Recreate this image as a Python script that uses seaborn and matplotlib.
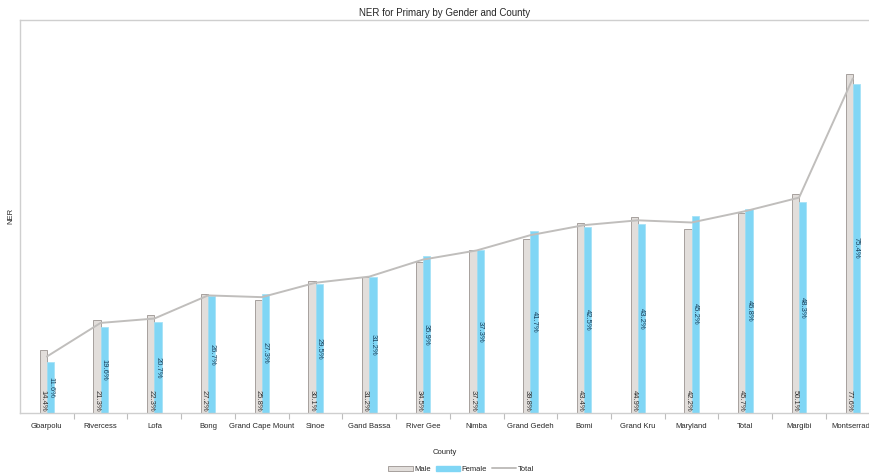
import pandas as pd
import seaborn as sns
import matplotlib.pyplot as plt
from matplotlib.patches import Patch
from matplotlib.lines import Line2D

counties = ['Gbarpolu', 'Rivercess', 'Lofa', 'Bong', 'Grand Cape Mount', 'Sinoe',
            'Gand Bassa', 'River Gee', 'Nimba', 'Grand Gedeh', 'Bomi', 'Grand Kru',
            'Maryland', 'Total', 'Margibi', 'Montserrado']
male = [14.4, 21.3, 22.3, 27.2, 25.8, 30.1, 31.2, 34.5, 37.2, 39.8, 43.4, 44.9,
        42.2, 45.7, 50.1, 77.6]
female = [11.6, 19.6, 20.7, 26.7, 27.3, 29.5, 31.2, 35.9, 37.3, 41.7, 42.5, 43.2,
          45.2, 46.8, 48.3, 75.4]
total = [12.9, 20.6, 21.6, 26.9, 26.5, 29.8, 31.2, 35.1, 37.2, 40.7, 43.0, 44.1,
         43.6, 46.2, 49.3, 76.6]

sns.set_theme(style='white')
plt.rcParams['font.family'] = ['Liberation Sans', 'DejaVu Sans']

df = pd.DataFrame({'County': counties * 2,
                   'NER': male + female,
                   'Gender': ['Male'] * len(counties) + ['Female'] * len(counties)})

fig = plt.figure(figsize=(8.7, 4.74), dpi=100)
ax = fig.add_axes([0.023, 0.129, 0.977, 0.829])

sns.barplot(data=df, x='County', y='NER', hue='Gender', order=counties,
            hue_order=['Male', 'Female'], palette=['#e2dedb', '#80d6f5'],
            saturation=1, width=0.27, dodge=True, ax=ax, legend=False)
for bar, ec in zip(ax.patches, ['#9a9490'] * len(counties) + ['#a6e2f7'] * len(counties)):
    bar.set_edgecolor(ec)
    bar.set_linewidth(0.6)

sns.lineplot(x=counties, y=total, sort=False, color='#c0bebc', linewidth=1.4, ax=ax)

# labels: male at base, female centered
ax.bar_label(ax.containers[0], labels=[f'{v:.1f}%' for v in male], label_type='edge',
             rotation=270, fontsize=5.5, color='#333333')
ax.bar_label(ax.containers[1], labels=[f'{v:.1f}%' for v in female], label_type='center',
             rotation=270, fontsize=5.5, color='#1a3f5a')

# move male labels to bottom of bars
for t in ax.texts[:len(male)]:
    t.xy = (t.xy[0], 0)
    t.xyann = (0, 1)
    t.set_va('bottom')

ax.set_yticks([])
ax.set_xticks(range(len(counties)))
ax.set_xticklabels(counties, fontsize=5.5)
ax.set_xticks([i + 0.5 for i in range(len(counties) - 1)], minor=True)
ax.set_xlim(-0.5, 15.32)
ax.set_ylim(0, 90)
ax.tick_params(axis='x', which='major', length=0, pad=7)
ax.tick_params(axis='x', which='minor', length=4, color='#bdbdbd', width=0.8, bottom=True)
for s in ax.spines.values():
    s.set_color('#cfcfcf')
    s.set_linewidth(1)
ax.spines['right'].set_visible(False)

ax.set_xlabel('County', fontsize=5.5, labelpad=14)
ax.set_ylabel('NER', fontsize=5.5, labelpad=4)
ax.set_title('NER for Primary by Gender and County', fontsize=7, pad=3)

handles = [Patch(facecolor='#e2dedb', edgecolor='#9a9490', linewidth=0.6),
           Patch(facecolor='#80d6f5', edgecolor='#80d6f5'),
           Line2D([0], [0], color='#c0bebc', linewidth=1.4)]
fig.legend(handles, ['Male', 'Female', 'Total'], loc='lower center', ncol=3,
           frameon=False, fontsize=5.5, bbox_to_anchor=(0.53, -0.012),
           handlelength=3.2, handleheight=0.6, columnspacing=0.6, handletextpad=0.2)

fig.savefig('out.png', dpi=100)
